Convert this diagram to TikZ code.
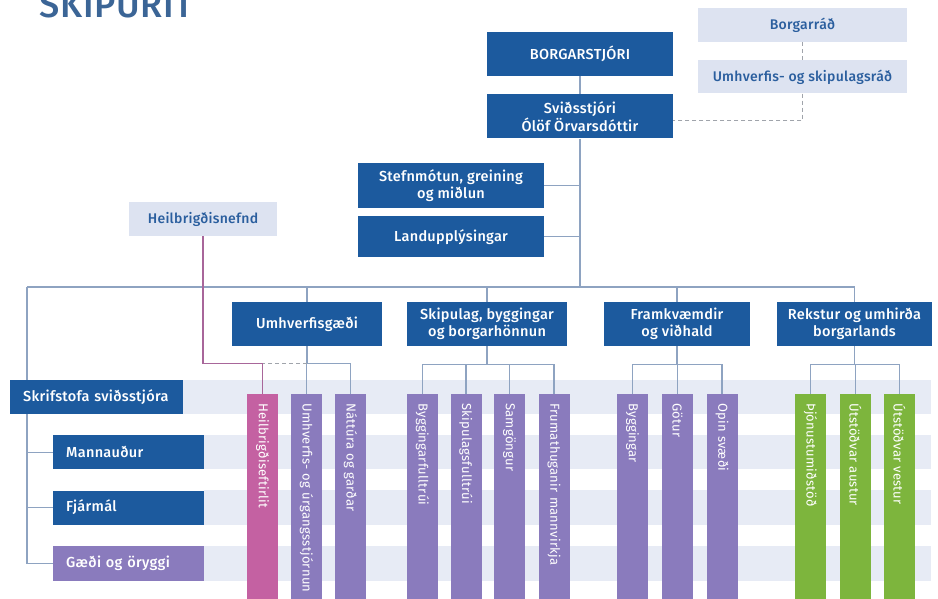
\documentclass[tikz,border=0pt]{standalone}
\usepackage{fontspec}
\setmainfont{Fira Sans}[BoldFont={* Medium}, LetterSpace=2]
\usetikzlibrary{positioning,calc}

\definecolor{dkblue}{HTML}{1C5A9E}
\definecolor{ltbox}{HTML}{DDE3F1}
\definecolor{ltext}{HTML}{2A5E9E}
\definecolor{bandc}{HTML}{E7EBF5}
\definecolor{purp}{HTML}{8A7BBD}
\definecolor{pinkc}{HTML}{C461A2}
\definecolor{grn}{HTML}{7DB53D}
\definecolor{connc}{HTML}{8EA3C1}
\definecolor{mauve}{HTML}{A8669A}
\definecolor{dashc}{HTML}{A0A4AB}
\definecolor{titlec}{HTML}{3B6596}

\pgfdeclarelayer{bands}
\pgfdeclarelayer{lines}
\pgfsetlayers{bands,lines,main}

\begin{document}
\begin{tikzpicture}[x=1pt, y=-1pt,
    box/.style={fill=dkblue, text=white, align=center, inner sep=2pt,
      font=\bfseries\fontsize{14.5}{16.5}\selectfont},
    lbox/.style={fill=ltbox, text=ltext, align=center, inner sep=2pt,
      font=\bfseries\fontsize{14}{16}\selectfont},
    sidebox/.style={fill=dkblue, text=white, align=left, inner xsep=13pt,
      font=\bfseries\fontsize{14.5}{16.5}\selectfont},
    col/.style={rotate=-90, anchor=west, minimum width=206, minimum height=31,
      text width=210, inner xsep=9pt, align=left, text=white,
      font=\fontsize{13}{15}\selectfont},
    conn/.style={draw=connc, line width=1.1pt},
    dashline/.style={draw=dashc, line width=1.1pt, dash pattern=on 4pt off 3pt},
    nefnd/.style={draw=mauve, line width=1.1pt}]
  \useasboundingbox (0,0) rectangle (938,598);
  \clip (0,0) rectangle (938,598);

  \node[anchor=base west, text=titlec, font=\bfseries\fontsize{36}{36}\selectfont] (title) at (36,17) {SKIPURIT};

  % top
  \node[box, minimum width=186, minimum height=44] (bs) at (580,54) {BORGARSTJÓRI};
  \node[box, minimum width=186, minimum height=44, below=18pt of bs] (svid) {Sviðsstjóri\\Ólöf Örvarsdóttir};
  \node[lbox, minimum width=209, minimum height=34] (borg) at (802.5,25) {Borgarráð};
  \node[lbox, minimum width=209, minimum height=33, below=18pt of borg] (umh) {Umhverfis- og skipulagsráð};
  \node[box, minimum width=186, minimum height=45] (stef) at (451,185.5) {Stefnmótun, greining\\og miðlun};
  \node[box, minimum width=186, minimum height=41, below=8pt of stef] (land) {Landupplýsingar};
  \node[lbox, minimum width=148, minimum height=34] (hn) at (203,219) {Heilbrigðisnefnd};

  % svid
  \node[box, minimum width=150, minimum height=44] (ug) at (307,324) {Umhverfisgæði};
  \node[box, minimum width=160, minimum height=44] (sk) at (487,324) {Skipulag, byggingar\\og borgarhönnun};
  \node[box, minimum width=146, minimum height=44] (fr) at (677,324) {Framkvæmdir\\og viðhald};
  \node[box, minimum width=155, minimum height=44] (rk) at (854.5,324) {Rekstur og umhirða\\borgarlands};

  % skrifstofa
  \node[sidebox, anchor=north west, minimum width=173, minimum height=34, text width=147] (skr) at (10,380) {Skrifstofa sviðsstjóra};
  \node[sidebox, anchor=north west, minimum width=151, minimum height=34, text width=125] (mann) at (53,435) {Mannauður};
  \node[sidebox, minimum width=151, minimum height=34, text width=125, below=21pt of mann.south west, anchor=north west] (fjar) {Fjármál};
  \node[sidebox, fill=purp, minimum width=151, minimum height=35, text width=125, below=21pt of fjar.south west, anchor=north west] (gaedi) {Gæði og öryggi};

  % deildir
  \foreach \n/\x/\c/\t in {hbe/262.5/pinkc/Heilbrigðiseftirlit,
      un/306.5/purp/Umhverfis- og úrgangsstjórnun, nat/350.5/purp/Náttúra og garðar,
      byf/422.5/purp/Byggingarfulltrúi, skf/466/purp/Skipulagsfulltrúi,
      sam/509.5/purp/Samgöngur, frm/554/purp/Frumathuganir mannvirkja,
      byg/632.5/purp/Byggingar, got/677.5/purp/Götur, ops/722/purp/Opin svæði,
      thj/810.5/grn/Þjónustumiðstöð, ua/855.5/grn/Útstöðvar austur, uv/899.5/grn/Útstöðvar vestur}
    \node[col, fill=\c] (\n) at (\x,394) {\t};

  \coordinate (bandend) at (931,0);
  \coordinate (busL) at (27,287);

  \begin{pgfonlayer}{bands}
    \foreach \r in {skr, mann, fjar, gaedi}
      \fill[bandc] (\r.north east) rectangle (\r.south -| bandend);
  \end{pgfonlayer}

  \begin{pgfonlayer}{lines}
    \draw[dashline] (borg) -- (umh);
    \draw[dashline] (umh.south) |- ([yshift=-4pt]svid.east);
    \draw[conn] (bs) -- (svid);
    \draw[conn] (svid.south) -- (svid.south |- busL);
    \draw[conn] (stef.east) -- (stef.east -| svid.south);
    \draw[conn] (land.east) -- (land.east -| svid.south);
    \draw[conn] (busL) -- (rk.north |- busL) -- (rk.north);
    \foreach \b in {ug, sk, fr}
      \draw[conn] (\b.north) -- (\b.north |- busL);
    \draw[conn] (busL) |- (gaedi.west);
    \draw[conn] (busL |- mann.west) -- (mann.west);
    \draw[conn] (busL |- fjar.west) -- (fjar.west);
    % groups
    \coordinate (uj) at ($(ug.south)+(0,17)$);
    \draw[conn] (ug.south) -- (uj) -| (nat.west);
    \draw[conn] (un.west) -- (un.west |- uj);
    \draw[dashline] (uj) -- (uj -| hbe.west);
    \draw[nefnd] (hn.south) |- (hbe.west |- uj) -- (hbe.west);
    \draw[conn] (sk.south) -- ++(0,18) coordinate (sj);
    \draw[conn] (byf.west) |- (sj) -| (frm.west);
    \draw[conn] (skf.west) -- (skf.west |- sj);
    \draw[conn] (sam.west) -- (sam.west |- sj);
    \draw[conn] (fr.south) -- ++(0,18) coordinate (fj);
    \draw[conn] (byg.west) |- (fj) -| (ops.west);
    \draw[conn] (got.west) -- (got.west |- fj);
    \draw[conn] (rk.south) -- ++(0,18) coordinate (rj);
    \draw[conn] (thj.west) |- (rj) -| (uv.west);
    \draw[conn] (ua.west) -- (ua.west |- rj);
  \end{pgfonlayer}
\end{tikzpicture}
\end{document}
